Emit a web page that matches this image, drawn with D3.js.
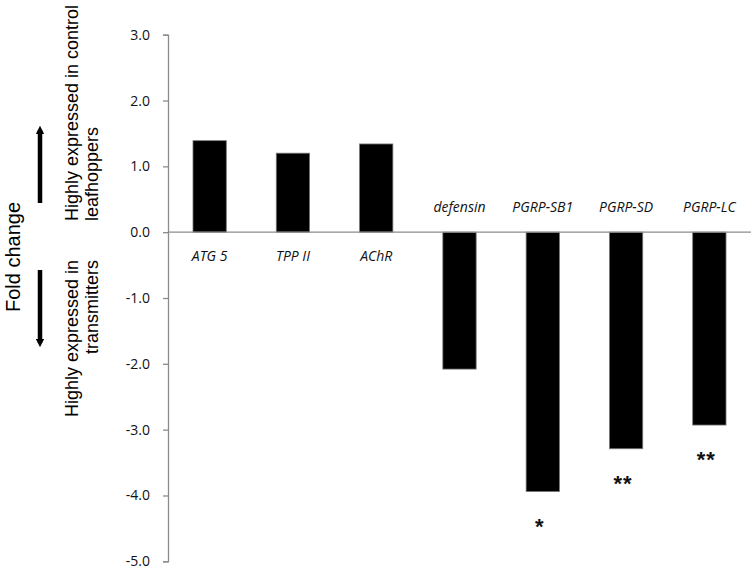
<!DOCTYPE html>
<html>
<head>
<meta charset="utf-8">
<script src="https://cdn.jsdelivr.net/npm/d3@7"></script>
<style>
  body { margin: 0; background: #fff; }
  svg { display: block; }
</style>
</head>
<body>
<script>
const w = 755;
const h = 569;

// data
const genes = ["ATG 5", "TPP II", "AChR", "defensin", "PGRP-SB1", "PGRP-SD", "PGRP-LC"];
const foldChange = [1.39, 1.20, 1.34, -2.08, -3.94, -3.29, -2.93];
const stars = ["", "", "", "", "*", "**", "**"];
const yTicks = [3, 2, 1, 0, -1, -2, -3, -4, -5];

const svg = d3.select("body")
    .append("svg")
    .attr("width", w)
    .attr("height", h)
    ;

const left = 168, right = 751;
const xScale = d3.scaleBand()
    .domain(genes)
    .range([left, right])
    .paddingInner(0.6)
    .paddingOuter(0.3)
    ;

const yScale = d3.scaleLinear()
    .domain([-5, 3])
    .range([561.3, 34.7])
    ;

const axisColor = "#8c8c8c";

// y axis
const yAxis = d3.axisLeft(yScale)
    .tickValues(yTicks)
    .tickSize(5)
    .tickPadding(13)
    .tickFormat(d3.format(".1f"))
    ;

const gy = svg.append("g")
    .attr("transform", "translate(" + left + ", 0)")
    .call(yAxis)
    ;
gy.select(".domain").attr("stroke", axisColor).attr("stroke-width", 1.3);
gy.selectAll(".tick line").attr("stroke", axisColor).attr("stroke-width", 1.3);
gy.selectAll(".tick text")
    .attr("fill", "#111")
    .style("font-family", "'Open Sans', sans-serif")
    .style("font-size", "14px")
    .text(d => d3.format(".1f")(d).replace("−", "-"))
    ;

// bars
svg.selectAll("rect.bar")
    .data(genes)
    .join("rect")
    .attr("class", "bar")
    .attr("x", d => xScale(d))
    .attr("width", xScale.bandwidth())
    .attr("y", (d, i) => yScale(Math.max(0, foldChange[i])))
    .attr("height", (d, i) => Math.abs(yScale(foldChange[i]) - yScale(0)))
    .attr("fill", "#000")
    .attr("stroke", "#777")
    .attr("stroke-width", 0.8)
    ;

// zero line (category axis)
svg.append("line")
    .attr("x1", left)
    .attr("x2", right)
    .attr("y1", yScale(0))
    .attr("y2", yScale(0))
    .attr("stroke", axisColor)
    .attr("stroke-width", 1.3)
    ;

// category labels, opposite side of the bar
svg.selectAll("text.cat")
    .data(genes)
    .join("text")
    .attr("class", "cat")
    .attr("x", d => xScale(d) + xScale.bandwidth() / 2)
    .attr("y", (d, i) => foldChange[i] >= 0 ? yScale(0) + 29 : yScale(0) - 20)
    .attr("text-anchor", "middle")
    .style("font-family", "'Open Sans', sans-serif")
    .style("font-style", "italic")
    .style("font-size", "14px")
    .attr("fill", "#111")
    .text(d => d)
    ;

// significance stars
svg.selectAll("text.star")
    .data(genes)
    .join("text")
    .attr("class", "star")
    .attr("x", d => xScale(d) + xScale.bandwidth() / 2 - 3)
    .attr("y", (d, i) => yScale(foldChange[i]) + 42)
    .attr("text-anchor", "middle")
    .style("font-family", "'Liberation Sans', Arial, sans-serif")
    .style("font-weight", "bold")
    .style("font-size", "22px")
    .style("letter-spacing", "1px")
    .attr("fill", "#111")
    .text((d, i) => stars[i])
    ;

// y titles
const titleFont = "'Liberation Sans', Arial, sans-serif";
svg.append("text")
    .attr("transform", "translate(20, 257) rotate(-90)")
    .attr("text-anchor", "middle")
    .style("font-family", titleFont)
    .style("font-size", "20px")
    .text("Fold change")
    ;

const upper = svg.append("text")
    .attr("transform", "translate(78, 221) rotate(-90)")
    .attr("text-anchor", "start")
    .style("font-family", titleFont)
    .style("font-size", "18px")
    ;
upper.append("tspan").attr("x", 0).attr("y", 0).text("Highly expressed in control");
upper.append("tspan").attr("x", 0).attr("y", 20).text("leafhoppers");

const lower = svg.append("text")
    .attr("transform", "translate(78, 260) rotate(-90)")
    .attr("text-anchor", "end")
    .style("font-family", titleFont)
    .style("font-size", "18px")
    ;
lower.append("tspan").attr("x", 0).attr("y", 0).text("Highly expressed in");
lower.append("tspan").attr("x", 0).attr("y", 20).text("transmitters");

// arrows
const defs = svg.append("defs");
defs.append("marker")
    .attr("id", "head")
    .attr("viewBox", "0 0 10 10")
    .attr("refX", 5)
    .attr("refY", 5)
    .attr("markerWidth", 1.9)
    .attr("markerHeight", 1.9)
    .attr("orient", "auto")
    .append("path")
    .attr("d", "M0,0 L10,5 L0,10 z")
    .attr("fill", "#000")
    ;

svg.append("line")
    .attr("x1", 40).attr("x2", 40)
    .attr("y1", 203).attr("y2", 130)
    .attr("stroke", "#000")
    .attr("stroke-width", 4.5)
    .attr("marker-end", "url(#head)")
    ;
svg.append("line")
    .attr("x1", 40).attr("x2", 40)
    .attr("y1", 270).attr("y2", 343)
    .attr("stroke", "#000")
    .attr("stroke-width", 4.5)
    .attr("marker-end", "url(#head)")
    ;
</script>
</body>
</html>
